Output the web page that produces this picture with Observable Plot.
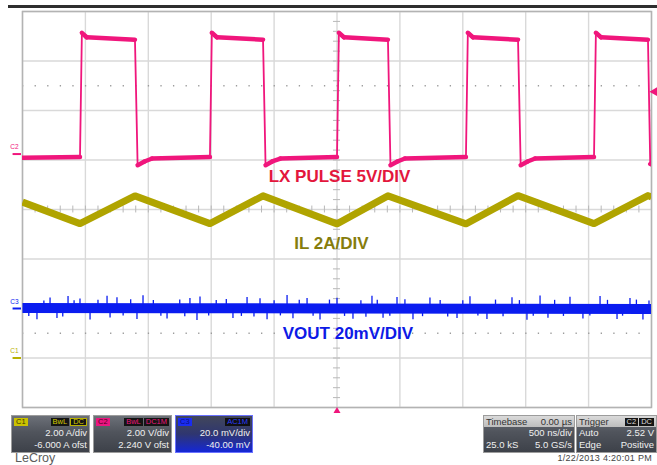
<!DOCTYPE html>
<html><head><meta charset="utf-8">
<script src="https://cdn.jsdelivr.net/npm/d3@7"></script>
<script src="https://cdn.jsdelivr.net/npm/@observablehq/plot@0.6"></script>
<style>
html,body{margin:0;padding:0;background:#fff;}
#wrap{position:relative;width:657px;height:465px;overflow:hidden;font-family:"Liberation Sans",Arial,sans-serif;background:#fff;}
#chart{position:absolute;left:0;top:0;}
#topbar{position:absolute;left:8px;top:5px;width:649px;height:3px;background:#2e2e2e;}
g[aria-label="chan-label"] text{letter-spacing:0.7px;}
.box{position:absolute;top:415px;height:38px;border:1px solid #9c9c9c;box-sizing:border-box;background:linear-gradient(#6c7078,#50545c 45%,#3d4149);color:#f0f0f0;font-size:9.5px;}
.row{position:absolute;left:2px;right:2px;height:12px;line-height:12px;white-space:nowrap;}
.r1{top:1px;height:10px;line-height:10px}.r2{top:11px}.r3{top:23px}
.l{position:absolute;left:0}.rt{position:absolute;right:0}
.badge{display:inline-block;height:8px;line-height:8px;font-size:7.5px;padding:0 2px;margin-left:1px;vertical-align:top;margin-top:1px;}
.light{position:absolute;left:0;right:0;top:0;height:11px;background:linear-gradient(#dadada,#bdbdbd);}
.dark{color:#333}
#lecroy{position:absolute;left:15px;top:452px;font-size:12.5px;line-height:13px;color:#5c5c5c;}
#date{position:absolute;right:5px;top:453px;font-size:9px;line-height:10px;color:#444;letter-spacing:0.3px;}
</style>
</head><body>
<div id="wrap">
  <div id="chart"></div>
  <div id="topbar"></div>
  <div class="box" style="left:11px;width:79px;">
    <div class="row r1"><span class="l"><span class="badge" style="background:#cbc200;color:#3a3500;margin-left:0">C1</span></span><span class="rt"><span class="badge" style="background:#141414;color:#d4cb00">BwL</span><span class="badge" style="background:#141414;color:#d4cb00;border:1px solid #b8b000;height:6px;line-height:6px">DC</span></span></div>
    <div class="row r2"><span class="rt">2.00 A/div</span></div>
    <div class="row r3"><span class="rt">-6.000 A ofst</span></div>
  </div>
  <div class="box" style="left:93px;width:79px;">
    <div class="row r1"><span class="l"><span class="badge" style="background:#ea1680;color:#4a0020;margin-left:0">C2</span></span><span class="rt"><span class="badge" style="background:#141414;color:#e8157a">BwL</span><span class="badge" style="background:#141414;color:#e8157a">DC1M</span></span></div>
    <div class="row r2"><span class="rt">2.00 V/div</span></div>
    <div class="row r3"><span class="rt">2.240 V ofst</span></div>
  </div>
  <div class="box" style="left:175px;width:78px;border-color:#6a72ff;background:linear-gradient(#42475a,#2f3670 50%,#1427d6);">
    <div class="row r1"><span class="l"><span class="badge" style="background:#1a2cf0;color:#0a0f80;margin-left:0">C3</span></span><span class="rt"><span class="badge" style="background:#101010;color:#2a3cff">AC1M</span></span></div>
    <div class="row r2"><span class="rt">20.0 mV/div</span></div>
    <div class="row r3"><span class="rt">-40.00 mV</span></div>
  </div>
  <div class="box" style="left:483px;width:92px;">
    <div class="light"></div>
    <div class="row r1 dark"><span class="l">Timebase</span><span class="rt">0.00 µs</span></div>
    <div class="row r2"><span class="rt">500 ns/div</span></div>
    <div class="row r3"><span class="l">25.0 kS</span><span class="rt">5.0 GS/s</span></div>
  </div>
  <div class="box" style="left:576px;width:81px;">
    <div class="light"></div>
    <div class="row r1 dark"><span class="l">Trigger</span><span class="rt"><span class="badge" style="background:#151515;color:#ddd">C2</span><span class="badge" style="background:#151515;color:#ddd">DC</span></span></div>
    <div class="row r2"><span class="l">Auto</span><span class="rt">2.52 V</span></div>
    <div class="row r3"><span class="l">Edge</span><span class="rt">Positive</span></div>
  </div>
  <div id="lecroy">LeCroy</div>
  <div id="date">1/22/2013 4:20:01 PM</div>
</div>
<script>
// ---- channel settings (from the scope readout) ----
const C1_PER_DIV = 2,  C1_OFFSET = -6;    // A
const C2_PER_DIV = 2,  C2_OFFSET = 2.24;  // V
const C3_PER_DIV = 20, C3_OFFSET = -40;   // mV
const TRIG_LEVEL = 2.52;                  // V on C2
const NS_PER_DIV = 500;

// ---- C2: LX switching node (ns, V) ----
const lxTime = [-2500,-2043,-2028,-1990,-1606,-1585,-1530,-1470,-1010,-995,-955,-588,-568,-515,-450,0,15,55,405,425,480,540,1025,1040,1080,1439,1460,1515,1575,2043,2058,2098,2472,2490,2500];
const lxVolt = [-0.15,-0.12,4.9,4.72,4.62,-0.45,-0.3,-0.18,-0.12,4.9,4.72,4.62,-0.45,-0.3,-0.18,-0.12,4.9,4.72,4.62,-0.45,-0.3,-0.18,-0.12,4.9,4.72,4.62,-0.45,-0.3,-0.18,-0.12,4.9,4.72,4.62,-0.4,-0.42];

// ---- C1: inductor current (ns, A) ----
const ilTime = [-2500,-2043,-1606,-1010,-588,0,405,1025,1439,2043,2472,2500];
const ilAmp  = [6.3,5.43,6.55,5.43,6.55,5.42,6.55,5.42,6.56,5.43,6.56,6.5];

// ---- C3: output ripple (ns, mV) ----
const voTime = [-2500,-1250,0,1250,2500];
const voMv   = [0.2,0.1,0,-0.1,-0.2];
const voSpikeTime = [-2385,-2281,-2226,-2138,-2043,-1963,-1828,-1804,-1749,-1590,-1542,-1351,-1169,-1113,-1089,-827,-715,-612,-556,-397,-350,-238,-135,0,127,278,366,477,604,739,954,1057,1192,1391,1510,1614,1677,1852,1955,2091,2226,2329,2432];
const voSpikeMv   = [-4.5,4.2,-4.0,4.8,3.8,-4.6,5.0,-3.8,4.3,-4.4,5.2,-4.2,4.0,-4.8,4.6,-4.0,4.4,3.9,-4.5,5.3,-4.1,4.0,-4.6,4.1,-4.3,5.0,-3.9,4.4,-4.5,4.2,-4.0,4.7,-4.4,4.3,-4.7,5.1,-3.9,4.5,-4.2,4.8,-4.4,4.0,-4.6];
const voSmallTime = [-2450,-2330,-2180,-2090,-1900,-1700,-1640,-1460,-1400,-1250,-1210,-1020,-960,-880,-760,-660,-500,-450,-300,-190,-60,60,190,230,320,420,540,680,820,880,1000,1120,1260,1320,1450,1560,1730,1800,2010,2150,2270,2380,2480];
const voSmallMv   = [-3.2,3.0,-3.4,3.1,3.3,-3.0,3.5,3.2,-3.1,3.4,-3.3,-3.0,3.2,3.6,-3.2,-3.4,3.1,-3.0,3.3,-3.1,3.4,-3.2,3.1,-3.5,3.3,-3.1,3.5,-3.3,3.2,-3.4,3.1,-3.0,3.4,-3.3,3.2,-3.1,3.3,-3.2,-3.0,3.3,-3.1,3.4,3.0];

const chanLabels = ["LX PULSE 5V/DIV", "IL 2A/DIV", "VOUT 20mV/DIV"];
const markerNames = ["C2", "C3", "C1"];

const PINK = "#f0167c", OLIVE = "#b0a400", BLUE = "#0a1cf0";

const div1 = a => (a + C1_OFFSET) / C1_PER_DIV;
const div2 = v => (v + C2_OFFSET) / C2_PER_DIV;
const div3 = m => (m + C3_OFFSET) / C3_PER_DIV;

const lx = lxTime.map((t, i) => ({t, d: div2(lxVolt[i])}));
const lxFlat = [];
for (let i = 0; i < lxTime.length - 1; i++) {
  if (Math.abs(lxVolt[i + 1] - lxVolt[i]) < 1)
    lxFlat.push({t1: lxTime[i], d1: div2(lxVolt[i]), t2: lxTime[i + 1], d2: div2(lxVolt[i + 1])});
}
const il = ilTime.map((t, i) => ({t, d: div1(ilAmp[i])}));
const vo = voTime.map((t, i) => ({t, d: div3(voMv[i])}));
const voSpikes = voSpikeTime.map((t, i) => ({t, d0: div3(0), d: div3(voSpikeMv[i])}))
  .concat(voSmallTime.map((t, i) => ({t, d0: div3(0), d: div3(voSmallMv[i])})));

const markers = [
  {name: markerNames[0], d: div2(0), c: PINK},
  {name: markerNames[1], d: div3(0), c: BLUE},
  {name: markerNames[2], d: div1(0), c: "#b8b000"}
];

const xGrid = d3.range(-5 * NS_PER_DIV, 5 * NS_PER_DIV + 1, NS_PER_DIV);
const yGrid = d3.range(-4, 5, 1);

const plot = Plot.plot({
  width: 657, height: 413,
  marginTop: 11, marginBottom: 6, marginLeft: 22, marginRight: 6,
  x: {domain: [-2500, 2500], axis: null},
  y: {domain: [-4, 4], axis: null},
  style: {background: "transparent", fontFamily: "Liberation Sans, Arial, sans-serif"},
  marks: [
    Plot.ruleX(xGrid, {stroke: "#d9d9d9", strokeWidth: 1.4}),
    Plot.ruleY(yGrid, {stroke: "#d9d9d9", strokeWidth: 1.4}),
    Plot.ruleY([2.5, -2.5], {stroke: "#9c9c9c", strokeWidth: 1.3, strokeDasharray: "1.3 11.28"}),
    Plot.ruleY(d3.range(-4, 4.01, 0.2), {x1: -28, x2: 28, stroke: "#b8b8b8", strokeWidth: 1}),
    Plot.ruleX(d3.range(-2500, 2501, 100), {y1: -0.07, y2: 0.07, stroke: "#b8b8b8", strokeWidth: 1}),
    Plot.frame({stroke: "#b3b3b3", strokeWidth: 1.5}),
    // traces
    Plot.line(il, {x: "t", y: "d", stroke: OLIVE, strokeWidth: 7, strokeLinecap: "butt", clip: true}),
    Plot.line(vo, {x: "t", y: "d", stroke: BLUE, strokeWidth: 10, strokeLinecap: "butt", clip: true}),
    Plot.ruleX(voSpikes, {x: "t", y1: "d0", y2: "d", stroke: BLUE, strokeWidth: 1.3}),
    Plot.line(lx, {x: "t", y: "d", stroke: PINK, strokeWidth: 1.8, clip: true}),
    Plot.link(lxFlat, {x1: "t1", y1: "d1", x2: "t2", y2: "d2", stroke: PINK, strokeWidth: 4.5, strokeLinecap: "round", clip: true}),
    // channel labels
    Plot.text([chanLabels[0]], {x: () => 20, y: () => 0.667, text: d => d, fill: "#e3163c", fontSize: 17, fontWeight: "bold", ariaLabel: "chan-label"}),
    Plot.text([chanLabels[1]], {x: () => -44, y: () => -0.687, text: d => d, fill: "#867d0c", fontSize: 17, fontWeight: "bold", ariaLabel: "chan-label"}),
    Plot.text([chanLabels[2]], {x: () => 87, y: () => -2.515, text: d => d, fill: "#0d1ae6", fontSize: 17, fontWeight: "bold", ariaLabel: "chan-label"}),
    // ground markers
    Plot.ruleY(markers, {y: "d", x1: -2575, x2: -2508, stroke: "c", strokeWidth: 2}),
    Plot.text(markers, {x: () => -2500, y: "d", text: "name", fill: "c", dx: -8, dy: -7, fontSize: 6.5}),
    // trigger markers
    Plot.dot([div2(TRIG_LEVEL)], {x: () => 2500, y: d => d, symbol: "triangle", rotate: -90, r: 3.6, fill: PINK, stroke: "none", dx: 3.5}),
    Plot.dot([0], {x: d => d, y: () => -4, symbol: "triangle", r: 3.6, fill: PINK, stroke: "none", dy: 5})
  ]
});
document.getElementById("chart").appendChild(plot);
</script>
</body></html>
